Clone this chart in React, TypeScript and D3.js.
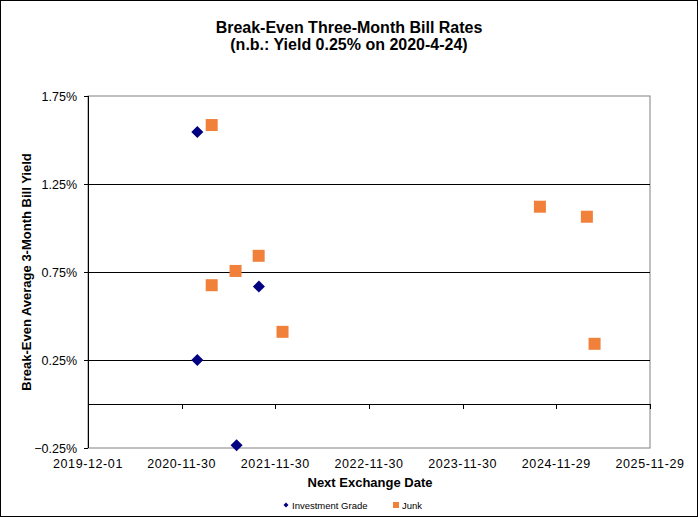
import React from "react";
import * as d3 from "d3";

const title1 = "Break-Even Three-Month Bill Rates";
const title2 = "(n.b.: Yield 0.25% on 2020-4-24)";
const yTitle = "Break-Even Average 3-Month Bill Yield";
const xTitle = "Next Exchange Date";

const xTickDates = ["2019-12-01", "2020-11-30", "2021-11-30", "2022-11-30", "2023-11-30", "2024-11-29", "2025-11-29"];
const yTicks = [-0.25, 0.25, 0.75, 1.25, 1.75];
const gridValues = [0.25, 0.75, 1.25];

const igDates = ["2021-01-30", "2021-01-30", "2021-09-27", "2021-07-02"];
const igValues = [1.545, 0.25, 0.667, -0.235];

const junkDates = ["2021-03-27", "2021-03-27", "2021-06-28", "2021-09-26", "2021-12-28", "2024-09-26", "2025-03-28", "2025-04-27"];
const junkValues = [1.585, 0.675, 0.756, 0.842, 0.41, 1.121, 1.064, 0.342];

const parse = d3.utcParse("%Y-%m-%d");

export default function App() {
  const W = 698, H = 517;
  const left = 88, right = 650, top = 96, bottom = 448;
  const x = d3.scaleUtc()
    .domain([parse(xTickDates[0])!, parse(xTickDates[xTickDates.length - 1])!])
    .range([left, right]);
  const y = d3.scaleLinear().domain([-0.25, 1.75]).range([bottom, top]);
  const font = "Arial, 'Liberation Sans', sans-serif";
  const diamond = d3.symbol().type(d3.symbolDiamond2).size(92)();
  const legendDiamond = d3.symbol().type(d3.symbolDiamond2).size(16)();
  const navy = "#000080";
  const orange = "#F0803A";
  const y0 = y(0);

  return (
    <svg width={W} height={H} style={{ position: "absolute", left: 0, top: 0, display: "block" }} fontFamily={font}>
      <rect x={0.5} y={0.5} width={W - 1} height={H - 1} fill="#fff" stroke="#000" strokeWidth={1} />
      <text x={W / 2} y={32.5} textAnchor="middle" fontWeight="bold" fontSize={16}>{title1}</text>
      <text x={W / 2} y={50} textAnchor="middle" fontWeight="bold" fontSize={16}>{title2}</text>

      {/* plot border */}
      <rect x={left} y={top} width={right - left} height={bottom - top} fill="#fff" stroke="#808080" strokeWidth={1} />
      {gridValues.map((v) => (
        <line key={v} x1={left} x2={right} y1={Math.round(y(v)) + 0.5} y2={Math.round(y(v)) + 0.5} stroke="#000" />
      ))}
      {/* x axis at zero */}
      <line x1={left} x2={right} y1={Math.round(y0) + 0.5} y2={Math.round(y0) + 0.5} stroke="#000" />
      {xTickDates.map((d) => {
        const xx = Math.round(x(parse(d)!)) + 0.5;
        return <line key={d} x1={xx} x2={xx} y1={Math.round(y0)} y2={Math.round(y0) + 5} stroke="#000" />;
      })}
      {/* y axis */}
      <line x1={left + 0.5} x2={left + 0.5} y1={top} y2={bottom} stroke="#000" />
      {yTicks.map((v) => (
        <g key={v}>
          <line x1={left - 4} x2={left} y1={Math.round(y(v)) + 0.5} y2={Math.round(y(v)) + 0.5} stroke="#000" />
          <text x={left - 11} y={y(v) + 4.5} textAnchor="end" fontSize={12.5}>{d3.format(".2%")(v / 100)}</text>
        </g>
      ))}
      {xTickDates.map((d) => (
        <text key={d} x={x(parse(d)!)} y={468} textAnchor="middle" fontSize={12.5} letterSpacing={0.6}>{d}</text>
      ))}
      <text x={370} y={487} textAnchor="middle" fontWeight="bold" fontSize={13}>{xTitle}</text>
      <text transform={`translate(31,${(top + bottom) / 2}) rotate(-90)`} textAnchor="middle" fontWeight="bold" fontSize={13}>{yTitle}</text>

      {junkDates.map((d, i) => (
        <rect key={"j" + i} x={x(parse(d)!) - 6} y={y(junkValues[i]) - 6} width={12} height={12} fill={orange} />
      ))}
      {igDates.map((d, i) => (
        <path key={"i" + i} d={diamond!} transform={`translate(${x(parse(d)!)},${y(igValues[i])})`} fill={navy} />
      ))}

      {/* legend */}
      <path d={legendDiamond!} transform="translate(286,505)" fill={navy} />
      <text x={292} y={508.5} fontSize={9.5}>Investment Grade</text>
      <rect x={393} y={502} width={6} height={6} fill={orange} />
      <text x={402} y={508.5} fontSize={9.5}>Junk</text>
    </svg>
  );
}
